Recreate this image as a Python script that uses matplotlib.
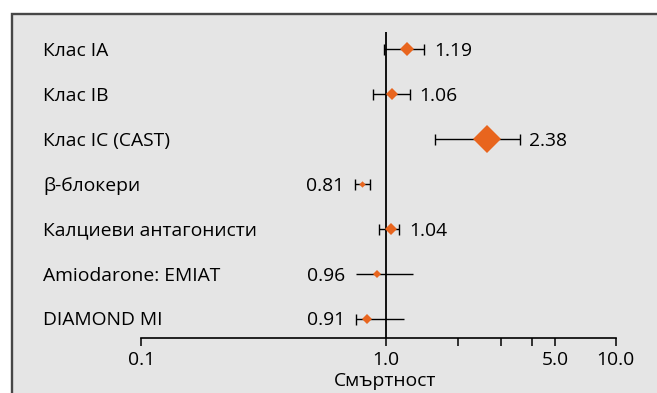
import numpy as np
import matplotlib
matplotlib.use("Agg")
import matplotlib.pyplot as plt
from matplotlib.patches import Rectangle

# ---------------- data ----------------
categories = ['Клас IA', 'Клас IB', 'Клас IC (CAST)', 'β-блокери',
              'Калциеви антагонисти', 'Amiodarone: EMIAT', 'DIAMOND MI']
estimate = [1.23, 1.06, 2.63, 0.80, 1.05, 0.92, 0.84]
ci_low = [0.99, 0.89, 1.60, 0.75, 0.94, 0.757, 0.76]
ci_high = [1.45, 1.26, 3.57, 0.867, 1.14, 1.30, 1.19]
value_labels = ['1.19', '1.06', '2.38', '0.81', '1.04', '0.96', '0.91']
x_ticks = [0.1, 1.0, 5.0, 10.0]
x_ticklabels = ['0.1', '1.0', '5.0', '10.0']
x_minor = [2, 3, 4]
x_label = 'Смъртност'

# ---------------- style ----------------
label_side = ['right', 'right', 'right', 'left', 'right', 'left', 'left']
cap_left = [True, True, True, True, True, False, True]
cap_right = [True, True, True, True, True, False, False]
diamond_px = [13.4, 11.0, 27.4, 6.4, 12.0, 7.4, 9.4]
ORANGE = '#e8651e'
BG = '#e5e5e5'
FONT = 'Open Sans'
FS = 13.9
TXT = '#000000'

W, H = 657, 393
fig = plt.figure(figsize=(W / 100, H / 100), dpi=100)
fig.patch.set_facecolor('white')
fig.patches.append(Rectangle((11.8 / W, -0.05), 1.2, 1 - 13.9 / H + 0.05,
                             transform=fig.transFigure, facecolor=BG,
                             edgecolor='#474747', linewidth=1.7, zorder=-10))

# axis geometry (pixels)
x0_px, x1_px = 141.3, 615.7
y_axis_px, y_top_px = 337.7, 32.0
ax = fig.add_axes([x0_px / W, (H - y_axis_px) / H,
                   (x1_px - x0_px) / W, (y_axis_px - y_top_px) / H])
ax.set_facecolor('none')

# scale mimicking the drawn (slightly irregular) logarithmic axis
L = np.log10([0.1, 1, 2, 3, 4, 5, 10])
P = np.array([141.3, 385.5, 458.0, 501.0, 532.0, 555.0, 615.7])


def fwd(x):
    x = np.maximum(np.asarray(x, dtype=float), 1e-12)
    lx = np.log10(x)
    return np.interp(lx, L, P) + \
        np.where(lx < L[0], (lx - L[0]) * 244.2, 0) + \
        np.where(lx > L[-1], (lx - L[-1]) * 230.2, 0)


def inv(y):
    y = np.asarray(y, dtype=float)
    l = np.interp(y, P, L) + np.where(y < P[0], (y - P[0]) / 244.2, 0) + \
        np.where(y > P[-1], (y - P[-1]) / 230.2, 0)
    return 10 ** l


ax.set_xscale('function', functions=(fwd, inv))
ax.set_xlim(0.1, 10)

n = len(categories)
row_px0, row_step = 49.0, 44.95
ax.set_ylim(n - 1 + (y_axis_px - (row_px0 + (n - 1) * row_step)) / row_step,
            -(row_px0 - y_top_px) / row_step)
ypos = np.arange(n)

ax.axvline(1.0, color='black', lw=1.3, zorder=2)

px2pt = 72 / 100
cap_ms = 11 * px2pt
cap_off = -0.70 * FS / 2
for i in range(n):
    ax.hlines(ypos[i], ci_low[i], ci_high[i], color='black', lw=1.0, zorder=3)
    if cap_left[i]:
        ax.plot([ci_low[i]], [ypos[i]], marker='|', color='black',
                ms=cap_ms, mew=1.0, zorder=3)
    if cap_right[i]:
        ax.plot([ci_high[i]], [ypos[i]], marker='|', color='black',
                ms=cap_ms, mew=1.0, zorder=3)
    ax.plot([estimate[i]], [ypos[i]], marker='D', color=ORANGE, mew=0,
            ms=diamond_px[i] / 1.4142 * px2pt, zorder=4)
    if label_side[i] == 'right':
        ax.annotate(value_labels[i], xy=(ci_high[i], ypos[i]),
                    xytext=(7, cap_off), textcoords='offset points',
                    ha='left', va='baseline', fontsize=FS, family=FONT,
                    color=TXT)
    else:
        ax.annotate(value_labels[i], xy=(ci_low[i], ypos[i]),
                    xytext=(-8, cap_off), textcoords='offset points',
                    ha='right', va='baseline', fontsize=FS, family=FONT,
                    color=TXT)
    ax.annotate(categories[i], xy=(43 / W, ypos[i]),
                xycoords=('figure fraction', 'data'),
                xytext=(0, cap_off), textcoords='offset points',
                ha='left', va='baseline', fontsize=FS, family=FONT,
                color=TXT, annotation_clip=False)

for s in ['top', 'left', 'right']:
    ax.spines[s].set_visible(False)
ax.spines['bottom'].set_linewidth(1.2)
ax.set_yticks([])
ax.set_xticks(x_ticks)
ax.set_xticklabels(x_ticklabels, fontsize=FS, family=FONT, color=TXT)
ax.set_xticks(x_minor, minor=True)
ax.xaxis.set_minor_formatter(matplotlib.ticker.NullFormatter())
ax.tick_params(axis='x', which='both', direction='out', length=6, width=1.1,
               pad=3.8, color='black')

ax.annotate(x_label, xy=(1.0, 0), xycoords=('data', 'axes fraction'),
            xytext=(0, -34.5), textcoords='offset points', ha='center',
            va='baseline', fontsize=FS, family=FONT, color=TXT,
            annotation_clip=False)

fig.savefig('out.png', dpi=100)
